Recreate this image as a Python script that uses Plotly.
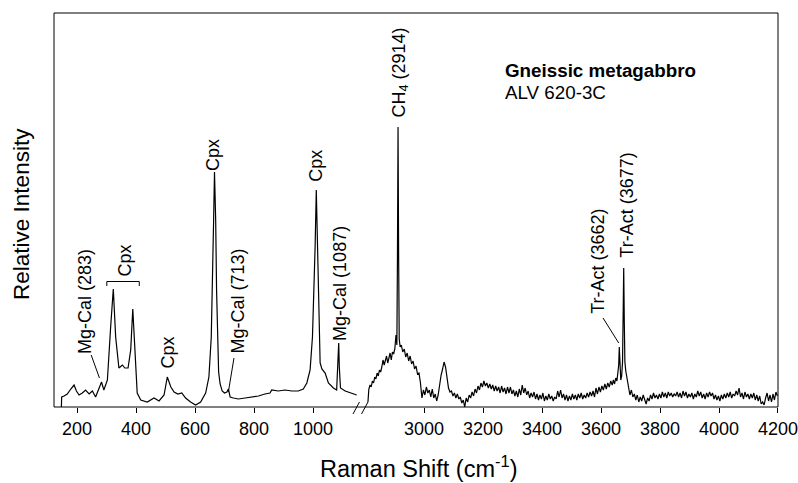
import plotly.graph_objects as go

# ---------------- data (Raman shift, cm-1 / relative intensity, a.u.) ----------------
left_x = [147, 148, 156, 167, 179, 190, 198, 207, 218, 229,
          241, 252, 263, 275, 283, 291, 303, 314, 323, 331,
          342, 354, 362, 373, 382, 389, 396, 404, 416, 438,
          461, 478, 495, 506, 518, 529, 542, 555, 568, 585,
          602, 619, 636, 647, 655, 659, 663, 666, 670, 673,
          676, 680, 685, 692, 700, 708, 713, 719, 730, 747,
          770, 792, 815, 837, 854, 860, 882, 905, 928, 950,
          967, 979, 990, 998, 1002, 1007, 1011, 1015, 1019, 1024,
          1030, 1041, 1052, 1069, 1080, 1084, 1087, 1089, 1093, 1109,
          1126, 1148]
left_y = [0, 10, 11, 13, 18, 22, 16, 12, 14, 17,
          13, 16, 10, 20, 25, 17, 27, 80, 118, 70,
          39, 42, 39, 39, 57, 98, 54, 14, 7, 5,
          9, 6, 12, 30, 20, 15, 13, 14, 9, 5,
          2, 5, 14, 30, 70, 117, 187, 235, 187, 117,
          62, 35, 23, 16, 14, 15, 18, 10, 9, 8,
          9, 10, 11, 13, 14, 17, 16, 17, 16, 16,
          18, 24, 37, 70, 104, 160, 217, 160, 90, 44,
          38, 34, 24, 19, 17, 40, 64, 40, 19, 16,
          14, 12]

# CH4 region
ch4_x = [2810, 2813, 2817, 2821, 2825, 2829, 2833, 2837, 2841, 2845,
         2849, 2853, 2857, 2861, 2865, 2869, 2873, 2877, 2881, 2885,
         2889, 2893, 2897, 2901, 2905, 2908, 2910, 2912, 2914, 2916,
         2919]
ch4_y = [5, 18, 22, 20, 26, 24, 30, 28, 34, 31,
         37, 35, 40, 47, 42, 46, 51, 44, 49, 54,
         47, 55, 53, 58, 72, 62, 150, 280, 150, 68,
         60]

# 2920 - 3640 region
mid_x = [2923, 2928, 2933, 2938, 2943, 2948, 2953, 2958, 2963, 2968, 2973, 2978, 2983, 2988,
         2993,
         2998, 3003, 3008, 3013, 3018, 3023, 3028, 3033, 3038, 3043,
         3048, 3053, 3058, 3063, 3068, 3073, 3078, 3083, 3088,
         3093, 3098, 3103, 3108, 3113, 3118, 3123, 3128, 3133, 3138,
         3143, 3148, 3153, 3158, 3163, 3168, 3173, 3178, 3183, 3188,
         3193, 3198, 3203, 3208, 3213, 3218, 3223, 3228, 3233, 3238,
         3243, 3248, 3253, 3258, 3263, 3268, 3273, 3278, 3283, 3288,
         3293, 3298, 3303, 3308, 3313, 3318, 3323, 3328, 3333, 3338,
         3343, 3348, 3353, 3358, 3363, 3368, 3373, 3378, 3383, 3388,
         3393, 3398, 3403, 3408, 3413, 3418, 3423, 3428, 3433, 3438,
         3443, 3448, 3453, 3458, 3463, 3468, 3473, 3478, 3483, 3488,
         3493, 3498, 3503, 3508, 3513, 3518, 3523, 3528, 3533, 3538,
         3543, 3548, 3553, 3558, 3563, 3568, 3573, 3578, 3583, 3588,
         3593, 3598, 3603, 3608, 3613, 3618, 3623, 3628, 3633, 3638]
mid_y = [62, 55, 58, 50, 54, 46, 51, 43, 46, 38, 41, 33, 34, 24,
         9,
         17, 12, 20, 14, 17, 10, 18, 9, 13, 6,
         12, 24, 32, 38, 45, 40, 30, 19, 15,
         16, 11, 14, 9, 13, 8, 10, 4, 7, 0,
         9, 5, 12, 9, 15, 11, 18, 14, 21, 17,
         24, 20, 26, 21, 24, 19, 23, 18, 22, 16,
         21, 16, 20, 14, 21, 15, 19, 13, 20, 14,
         20, 13, 17, 11, 16, 10, 18, 12, 22, 14,
         19, 12, 16, 9, 14, 10, 15, 8, 13, 7,
         12, 8, 14, 6, 11, 7, 13, 8, 11, 6,
         10, 8, 16, 10, 17, 9, 13, 7, 12, 6,
         11, 7, 13, 8, 12, 7, 13, 9, 14, 8,
         12, 9, 14, 10, 15, 11, 16, 10, 19, 13,
         20, 15, 21, 17, 23, 18, 24, 20, 26, 22]

# Tremolite-actinolite OH region
tr_x = [3642, 3646, 3650, 3654, 3657, 3660, 3662, 3664, 3667, 3670,
        3673, 3675, 3677, 3679, 3681, 3684, 3687, 3690, 3694, 3698]
tr_y = [27, 23, 29, 26, 32, 42, 60, 36, 27, 31,
        45, 90, 139, 85, 45, 36, 30, 24, 19, 12]

# 3700 - 4200 region
hi_x = [3703, 3708, 3713, 3718, 3723, 3728, 3733, 3738, 3743, 3748,
        3753, 3758, 3763, 3768, 3773, 3778, 3783, 3788, 3793, 3798,
        3803, 3808, 3813, 3818, 3823, 3828, 3833, 3838, 3843, 3848,
        3853, 3858, 3863, 3868, 3873, 3878, 3883, 3888, 3893, 3898,
        3903, 3908, 3913, 3918, 3923, 3928, 3933, 3938, 3943, 3948,
        3953, 3958, 3963, 3968, 3973, 3978, 3983, 3988, 3993, 3998,
        4003, 4008, 4013, 4018, 4023, 4028, 4033, 4038, 4043, 4048,
        4053, 4058, 4063, 4068, 4073, 4078, 4083, 4088, 4093, 4098,
        4103, 4108, 4113, 4118, 4123, 4128, 4133, 4138, 4143, 4148,
        4153, 4158, 4163, 4168, 4173, 4178, 4183, 4188, 4193, 4198]
hi_y = [17, 10, 13, 7, 12, 5, 10, 6, 12, 7,
        3, 9, 6, 12, 8, 14, 9, 12, 8, 13,
        9, 15, 10, 14, 9, 15, 11, 14, 10, 13,
        11, 15, 10, 14, 9, 16, 11, 15, 9, 13,
        10, 14, 8, 13, 10, 16, 11, 15, 9, 13,
        8, 14, 10, 15, 11, 14, 8, 12, 7, 11,
        6, 12, 8, 13, 9, 14, 10, 15, 9, 13,
        11, 16, 12, 19, 10, 14, 8, 15, 10, 13,
        8, 13, 9, 14, 7, 12, 6, 11, 3, 5,
        2, 9, 14, 6, 12, 5, 13, 7, 15, 11]

for a, b in [(left_x, left_y), (ch4_x, ch4_y), (mid_x, mid_y), (tr_x, tr_y), (hi_x, hi_y)]:
    assert len(a) == len(b), (len(a), len(b))

right_x = ch4_x + mid_x + tr_x + hi_x
right_y = ch4_y + mid_y + tr_y + hi_y

left_ticks = [200, 400, 600, 800, 1000]
right_ticks = [3000, 3200, 3400, 3600, 3800, 4000, 4200]

# peak labels
lab_text = ["Mg-Cal (283)", "Cpx", "Cpx", "Cpx", "Mg-Cal (713)", "Cpx",
            "Mg-Cal (1087)", "CH<sub>4</sub> (2914)", "Tr-Act (3662)", "Tr-Act (3677)"]
lab_x = [227, 364, 507, 661, 744, 1009, 1091, 2917, 3589, 3687]
lab_y = [106, 147, 54, 252, 106, 241, 124, 334, 146, 202]
lab_axis = ["x", "x", "x", "x", "x", "x", "x", "x2", "x2", "x2"]

# leader lines: (axis, x0, y0, x1, y1)
leaders = [("x", 248, 52, 276, 29),
           ("x", 732, 49, 713, 15),
           ("x2", 3607, 89, 3660, 64)]
bracket = ("x", 301, 411, 125.5, 121)

FONT = "Liberation Sans, Arial, Helvetica, sans-serif"

fig = go.Figure()
fig.add_trace(go.Scatter(x=left_x, y=left_y, mode="lines", xaxis="x", yaxis="y",
                         line=dict(color="black", width=1.2), showlegend=False))
fig.add_trace(go.Scatter(x=right_x, y=right_y, mode="lines", xaxis="x2", yaxis="y",
                         line=dict(color="black", width=1.2), showlegend=False))

annotations = []
for t, x, y, ax in zip(lab_text, lab_x, lab_y, lab_axis):
    annotations.append(dict(text=t, x=x, y=y, xref=ax, yref="y", showarrow=False,
                            textangle=-90, xanchor="center", yanchor="middle",
                            font=dict(size=18, color="black", family=FONT)))
annotations += [
    dict(text="<b>Gneissic metagabbro</b>", x=0.620, y=0.854, xref="paper", yref="paper",
         showarrow=False, xanchor="left", yanchor="middle",
         font=dict(size=18.8, color="black", family=FONT)),
    dict(text="ALV 620-3C", x=0.620, y=0.797, xref="paper", yref="paper",
         showarrow=False, xanchor="left", yanchor="middle",
         font=dict(size=18.8, color="black", family=FONT)),
    dict(text="Raman Shift (cm<sup>-1</sup>)", x=0.504, y=-0.152, xref="paper", yref="paper",
         showarrow=False, xanchor="center", yanchor="middle",
         font=dict(size=23.5, color="black", family=FONT)),
    dict(text="Relative Intensity", x=-0.0442, y=0.49, xref="paper", yref="paper",
         showarrow=False, xanchor="center", yanchor="middle", textangle=-90,
         font=dict(size=22.5, color="black", family=FONT)),
]

shapes = [dict(type="rect", xref="paper", yref="paper", x0=0, x1=1, y0=0, y1=1,
               line=dict(color="black", width=1))]
for ax, x0, y0, x1, y1 in leaders:
    shapes.append(dict(type="line", xref=ax, yref="y", x0=x0, y0=y0, x1=x1, y1=y1,
                       line=dict(color="black", width=1)))
bx, b0, b1, by, bt = bracket
shapes.append(dict(type="path", xref=bx, yref="y",
                   path=f"M {b0},{bt} L {b0},{by} L {b1},{by} L {b1},{bt}",
                   line=dict(color="black", width=1)))
# axis break marks
for xa, xb in [(0.41298, 0.42196), (0.42472, 0.43370)]:
    shapes.append(dict(type="line", xref="paper", yref="paper", x0=xa, y0=-0.0178, x1=xb, y1=0.0127,
                       line=dict(color="black", width=1)))

axis_common = dict(showgrid=False, zeroline=False, showline=False, ticks="outside",
                   ticklen=5, tickwidth=1, tickcolor="black", ticklabeloverflow="allow",
                   automargin=False,
                   tickfont=dict(size=18, color="black", family=FONT), anchor="y")

fig.update_layout(
    width=798, height=483,
    margin=dict(l=54, r=20, t=13, b=76, pad=0, autoexpand=False),
    paper_bgcolor="white", plot_bgcolor="white",
    xaxis=dict(domain=[0, 0.4241], range=[122, 1162.7], tickvals=left_ticks, **axis_common),
    xaxis2=dict(domain=[0.4268, 1], range=[2793.2, 4200.01], tickvals=right_ticks, **axis_common),
    yaxis=dict(range=[0, 394], showticklabels=False, ticks="", showgrid=False,
               zeroline=False, showline=False, automargin=False),
    annotations=annotations,
    shapes=shapes,
    font=dict(family=FONT, color="black"),
)

fig.write_html(
    "out.html",
    config={"displayModeBar": False},
    post_script=("document.documentElement.style.margin='0';"
                 "document.documentElement.style.overflow='hidden';"
                 "document.body.style.margin='0';document.body.style.padding='0';"
                 "document.body.style.overflow='hidden';"),
)
